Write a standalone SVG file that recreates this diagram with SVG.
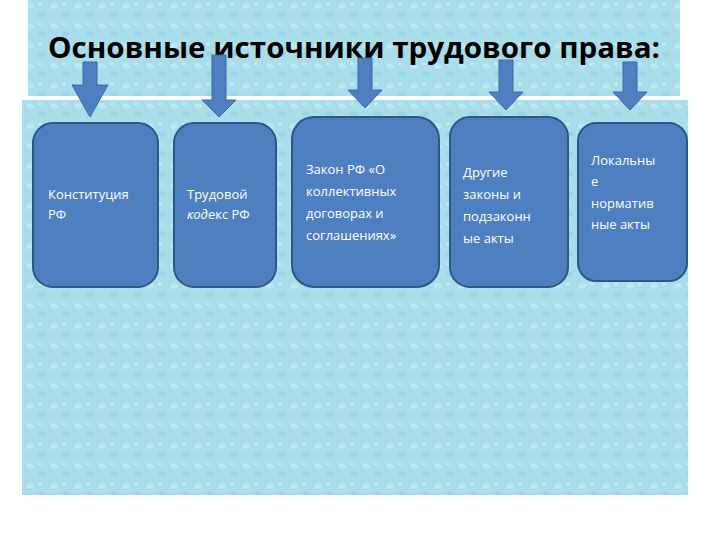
<svg xmlns="http://www.w3.org/2000/svg" width="720" height="540" viewBox="0 0 720 540">
<defs>
<style>
.box{fill:#4e7fc0;stroke:#2c5786;stroke-width:2}
.arr{fill:#4e7fc0;stroke:#3a6aa5;stroke-width:1}
.t{font-family:"Open Sans","DejaVu Sans",sans-serif;font-size:13px;fill:#ffffff}
</style>
<pattern id="drops" width="24" height="20" patternUnits="userSpaceOnUse">
<rect width="24" height="20" fill="#a9dde9"/>
<ellipse cx="6" cy="6" rx="4" ry="3" fill="#bde7f0"/>
<ellipse cx="18" cy="14" rx="3.5" ry="2.5" fill="#98d4e3"/>
<ellipse cx="16" cy="4" rx="2" ry="1.5" fill="#c8eef4"/>
</pattern>
</defs>
<rect width="720" height="540" fill="#ffffff"/>
<rect x="28" y="0" width="652" height="96" fill="url(#drops)"/>
<rect x="22" y="100" width="666" height="395" fill="url(#drops)"/>
<text x="48" y="58" textLength="612" lengthAdjust="spacingAndGlyphs" font-family="Open Sans,Liberation Sans,sans-serif" font-weight="bold" font-size="29" fill="#000">Основные источники трудового права:</text>
<g id="connectors">
<polygon class="arr" points="83,62 97,62 97,85 108,85 90,117 72,85 83,85"/>
<polygon class="arr" points="212,55 226,55 226,100 236,100 219,117 202,100 212,100"/>
<polygon class="arr" points="358,58 372,58 372,90 382,90 365,108 348,90 358,90"/>
<polygon class="arr" points="499,60 513,60 513,92 523,92 506,110 489,92 499,92"/>
<polygon class="arr" points="623,62 637,62 637,92 647,92 630,110 613,92 623,92"/>
</g>
<g id="n1"><rect class="box" x="33" y="123" width="125" height="164" rx="20"/>
<text class="t" x="48" y="199">Конституция</text><text class="t" x="48" y="219">РФ</text></g>
<g id="n2"><rect class="box" x="174" y="123" width="102" height="164" rx="20"/>
<text class="t" x="187" y="199">Трудовой</text><text class="t" x="187" y="219"><tspan font-style="italic">код</tspan>екс РФ</text></g>
<g id="n3"><rect class="box" x="292" y="117" width="147" height="170" rx="22"/>
<text class="t" x="306" y="174">Закон РФ «О</text><text class="t" x="306" y="196">коллективных</text><text class="t" x="306" y="218">договорах и</text><text class="t" x="306" y="240">соглашениях»</text></g>
<g id="n4"><rect class="box" x="450" y="117" width="118" height="170" rx="20"/>
<text class="t" x="463" y="177">Другие</text><text class="t" x="463" y="199">законы и</text><text class="t" x="463" y="221">подзаконн</text><text class="t" x="463" y="243">ые акты</text></g>
<g id="n5"><rect class="box" x="578" y="123" width="109" height="158" rx="18"/>
<text class="t" x="591" y="165">Локальны</text><text class="t" x="591" y="186">е</text><text class="t" x="591" y="208">норматив</text><text class="t" x="591" y="229">ные акты</text></g>
</svg>
